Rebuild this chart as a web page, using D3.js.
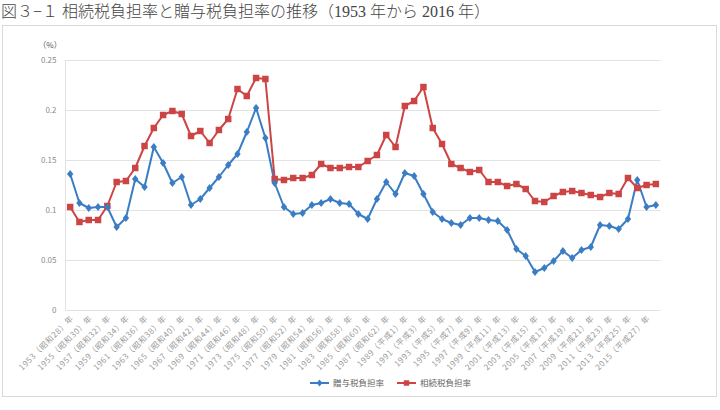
<!DOCTYPE html>
<html><head><meta charset="utf-8">
<script src="https://cdn.jsdelivr.net/npm/d3@7"></script>
<style>
html,body{margin:0;padding:0;background:#fff;}
svg{display:block;}
</style></head>
<body>
<svg id="chart" width="720" height="410"></svg>
<script>
const titleText = "図３−１ 相続税負担率と贈与税負担率の推移（1953 年から 2016 年）";
const years = d3.range(1953, 2017);
const eraLabels = ["昭和28","昭和29","昭和30","昭和31","昭和32","昭和33","昭和34","昭和35","昭和36","昭和37","昭和38","昭和39","昭和40","昭和41","昭和42","昭和43","昭和44","昭和45","昭和46","昭和47","昭和48","昭和49","昭和50","昭和51","昭和52","昭和53","昭和54","昭和55","昭和56","昭和57","昭和58","昭和59","昭和60","昭和61","昭和62","昭和63","平成1","平成2","平成3","平成4","平成5","平成6","平成7","平成8","平成9","平成10","平成11","平成12","平成13","平成14","平成15","平成16","平成17","平成18","平成19","平成20","平成21","平成22","平成23","平成24","平成25","平成26","平成27","平成28"];
const giftTax = [0.136,0.107,0.102,0.103,0.103,0.083,0.092,0.131,0.123,0.163,0.147,0.127,0.133,0.105,0.111,0.122,0.133,0.145,0.156,0.178,0.202,0.172,
  0.127,0.103,0.096,0.097,0.105,0.107,0.111,0.107,0.106,0.096,0.091,0.111,0.128,0.116,0.137,0.134,0.116,0.098,0.091,0.087,0.085,0.092,0.092,0.090,
  0.089,0.080,0.061,0.054,0.038,0.042,0.049,0.059,0.052,0.060,0.063,0.085,0.084,0.081,0.091,0.130,0.103,0.105];
const inheritanceTax = [0.103,0.088,0.090,0.090,0.104,0.128,0.129,0.142,0.164,0.182,0.195,0.199,0.196,0.174,0.179,0.167,0.180,0.191,0.221,0.214,0.232,0.231,
  0.131,0.130,0.132,0.132,0.135,0.146,0.142,0.142,0.143,0.143,0.149,0.155,0.175,0.163,0.204,0.209,0.223,0.182,0.166,0.146,0.142,0.138,0.140,0.128,
  0.128,0.124,0.126,0.121,0.109,0.108,0.114,0.118,0.119,0.117,0.115,0.113,0.117,0.116,0.132,0.122,0.125,0.126];
const yTicks = [0, 0.05, 0.1, 0.15, 0.2, 0.25];
const yTickLabels = ["0","0.05","0.1","0.15","0.2","0.25"];
const seriesNames = ["贈与税負担率","相続税負担率"];
const seriesColors = ["#3b7dc4","#cc4444"];

const svg = d3.select("#chart");
const font = "'Noto Sans CJK JP', 'Noto Sans', sans-serif";

// title
svg.append("text").attr("x", 1).attr("y", 17)
  .attr("font-family", "'Liberation Serif','Noto Sans CJK JP',serif")
  .attr("font-weight", 300)
  .attr("font-size", 16).attr("fill", "#444").text(titleText);

// outer frame
svg.append("rect").attr("x", 2.5).attr("y", 25.5).attr("width", 714).attr("height", 371)
  .attr("fill", "#fff").attr("stroke", "#d9d9d9").attr("stroke-width", 1);

const pLeft = 65.5, pRight = 660.5, pTop = 60, pBottom = 310;
const x = d3.scaleBand().domain(years).range([pLeft, pRight]);
const y = d3.scaleLinear().domain([0, 0.25]).range([pBottom, pTop]);
const cx = d => x(d) + x.bandwidth() / 2;

// grid lines
svg.append("g").selectAll("line").data(yTicks).join("line")
  .attr("x1", pLeft).attr("x2", pRight)
  .attr("y1", d => Math.round(y(d)) + 0.5).attr("y2", d => Math.round(y(d)) + 0.5)
  .attr("stroke", "#e3e3e3").attr("stroke-width", 1);
// y axis line
svg.append("line").attr("x1", pLeft).attr("x2", pLeft).attr("y1", pTop).attr("y2", pBottom)
  .attr("stroke", "#e3e3e3");

// y axis labels
const yAxis = d3.axisLeft(y).tickValues(yTicks).tickSize(0).tickPadding(9)
  .tickFormat((d, i) => yTickLabels[i]);
const gy = svg.append("g").attr("transform", `translate(${pLeft},0)`).call(yAxis);
gy.select(".domain").remove();
gy.selectAll("text").attr("font-family", font).attr("font-size", 8).attr("fill", "#8c8c8c");

svg.append("text").attr("x", 50).attr("y", 48).attr("text-anchor", "middle")
  .attr("font-family", font).attr("font-size", 8).attr("fill", "#555").text("（%）");

// x labels (every other year)
const xAxis = d3.axisBottom(x).tickSize(0)
  .tickValues(years.filter((d, i) => i % 2 === 0))
  .tickFormat(d => `${d}（${eraLabels[years.indexOf(d)]}）年`);
const gx = svg.append("g").attr("transform", `translate(0,${pBottom})`).call(xAxis);
gx.select(".domain").remove();
gx.selectAll("text")
  .attr("font-family", font).attr("font-size", 8).attr("fill", "#999")
  .attr("letter-spacing", 0.6)
  .attr("text-anchor", "end").attr("dy", 0).attr("y", 0)
  .attr("transform", "translate(4,9) rotate(-45)");

// lines
const data = [giftTax, inheritanceTax];
const line = d3.line().x((d, i) => cx(years[i])).y(d => y(d));
data.forEach((vals, s) => {
  svg.append("path").datum(vals).attr("d", line).attr("fill", "none")
    .attr("stroke", seriesColors[s]).attr("stroke-width", 2).attr("stroke-linejoin", "round");
});
// markers
svg.append("g").selectAll("path").data(inheritanceTax).join("path")
  .attr("d", d3.symbol(d3.symbolSquare, 42))
  .attr("transform", (d, i) => `translate(${cx(years[i])},${y(d)})`)
  .attr("fill", seriesColors[1]);
svg.append("g").selectAll("path").data(giftTax).join("path")
  .attr("d", "M0,-4L3.2,0L0,4L-3.2,0Z")
  .attr("transform", (d, i) => `translate(${cx(years[i])},${y(d)})`)
  .attr("fill", seriesColors[0]);

// legend
const legendX = [310, 397];
const lg = svg.append("g");
seriesNames.forEach((name, s) => {
  const g = lg.append("g").attr("transform", `translate(${legendX[s]},383)`);
  g.append("line").attr("x1", 0).attr("x2", 19).attr("stroke", seriesColors[s]).attr("stroke-width", 2);
  if (s === 0) g.append("path").attr("d", "M9.5,-3.5L12.3,0L9.5,3.5L6.7,0Z").attr("fill", seriesColors[s]);
  else g.append("path").attr("d", d3.symbol(d3.symbolSquare, 30)).attr("transform", "translate(9.5,0)").attr("fill", seriesColors[s]);
  g.append("text").attr("x", 23).attr("y", 3).attr("font-family", font).attr("font-size", 8.5)
    .attr("fill", "#666").text(name);
});
</script>
</body></html>
